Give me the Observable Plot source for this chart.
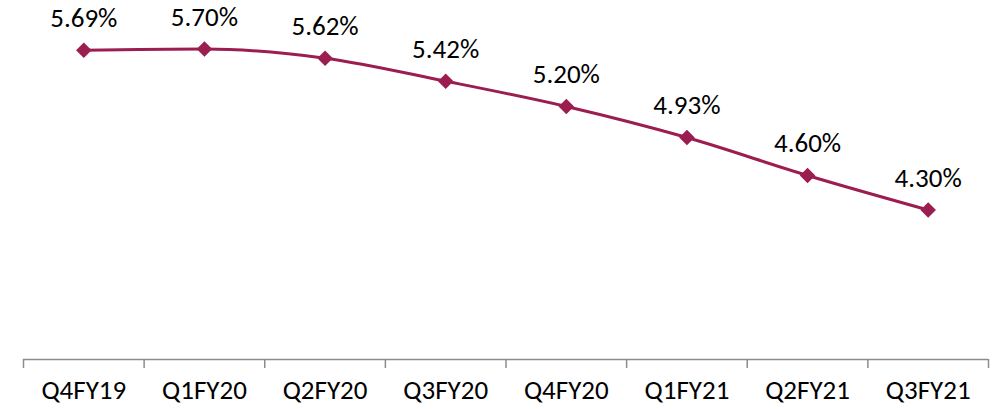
<!DOCTYPE html>
<html><head><meta charset="utf-8">
<script src="https://cdn.jsdelivr.net/npm/d3@7"></script>
<script src="https://cdn.jsdelivr.net/npm/@observablehq/plot@0.6"></script>
<style>
html,body{margin:0;padding:0;background:#fff;}
#chart svg{display:block;}
</style>
</head><body><div id="chart"></div>
<script>
const categories = ["Q4FY19","Q1FY20","Q2FY20","Q3FY20","Q4FY20","Q1FY21","Q2FY21","Q3FY21"];
const values = [5.69, 5.70, 5.62, 5.42, 5.20, 4.93, 4.60, 4.30];
const valueLabels = ["5.69%","5.70%","5.62%","5.42%","5.20%","4.93%","4.60%","4.30%"];

const data = categories.map((c, i) => ({i, c, v: values[i], label: valueLabels[i]}));
const boundaries = d3.range(categories.length + 1).map(k => k - 0.5);
const color = "#9C1D50";
const font = "Calibri, Carlito, Lato, sans-serif";

const chart = Plot.plot({
  width: 999,
  height: 409,
  marginLeft: 23,
  marginRight: 11,
  marginTop: 14,
  marginBottom: 50,
  style: {fontFamily: font, fontSize: "27px", color: "#000", background: "#fff", overflow: "visible"},
  x: {type: "linear", domain: [-0.5, categories.length - 0.5], axis: null},
  y: {domain: [3, 6], axis: null},
  marks: [
    Plot.ruleY([3], {stroke: "#8c8c8c", strokeWidth: 1.5}),
    Plot.axisX({ticks: boundaries, tickSize: 9, tickFormat: () => "", stroke: "#8c8c8c", strokeWidth: 1.5, anchor: "bottom", label: null}),
    Plot.axisX({ticks: d3.range(categories.length), tickSize: 0, tickPadding: 20, tickFormat: k => categories[k], fontSize: 27, fill: "#000", anchor: "bottom", label: null}),
    Plot.line(data, {x: "i", y: "v", stroke: color, strokeWidth: 3, curve: "monotone-x"}),
    Plot.dot(data, {x: "i", y: "v", symbol: "diamond2", r: 7, fill: color, stroke: "none"}),
    Plot.text(data, {x: "i", y: "v", text: "label", dy: -32, fill: "#000", fontSize: 27, lineAnchor: "middle"})
  ]
});
document.getElementById("chart").appendChild(chart);
</script>
</body></html>
